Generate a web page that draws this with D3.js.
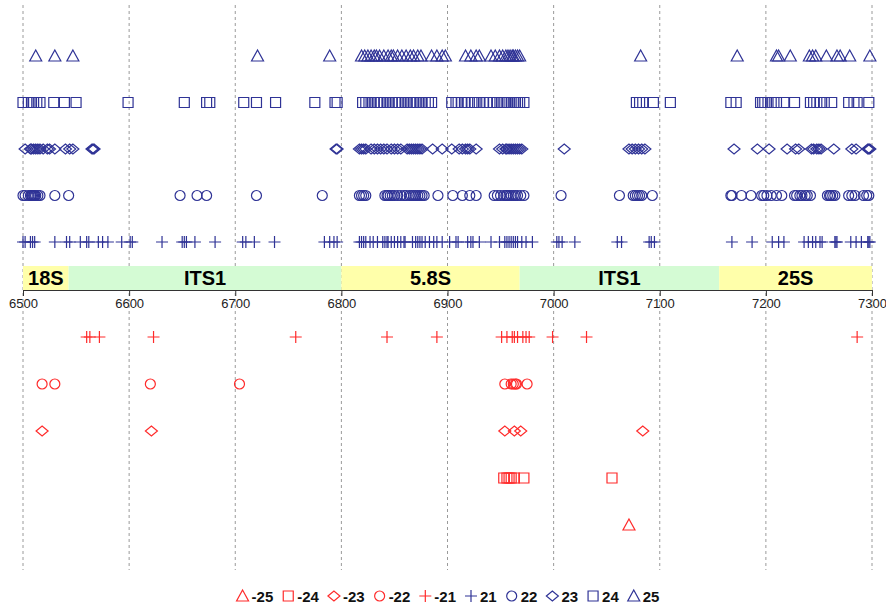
<!DOCTYPE html>
<html>
<head>
<meta charset="utf-8">
<script src="https://cdn.jsdelivr.net/npm/d3@7"></script>
<style>
  body { margin: 0; background: #fff; }
  svg { display: block; font-family: "Liberation Sans", Arial, sans-serif; }
</style>
</head>
<body>
<div class="chart"></div>
<script>
// positions (bp) of each marker, one array per series
const pos25 = [6512, 6530, 6547, 6721, 6789, 6819, 6822, 6825, 6828, 6831, 6833, 6836, 6840, 6844, 6847, 6849, 6853, 6857, 6861, 6865, 6868, 6872, 6875, 6885, 6890, 6895, 6898, 6917, 6922, 6927, 6930, 6941, 6945, 6949, 6952, 6955, 6957, 6959, 6961, 6962, 6964, 6966, 6968, 7082, 7173, 7210, 7212, 7223, 7241, 7244, 7247, 7257, 7267, 7270, 7279, 7298];
const pos24 = [6500, 6505, 6508, 6510, 6513, 6516, 6529, 6539, 6550, 6599, 6652, 6673, 6676, 6708, 6720, 6738, 6775, 6794, 6796,
  6820, 6823, 6826, 6828, 6831, 6834, 6837, 6840, 6843, 6845, 6848, 6851, 6854, 6857, 6860, 6862, 6865, 6868, 6871, 6874, 6876, 6879, 6882, 6885,
  6904, 6908, 6910, 6913, 6916, 6919, 6923, 6926, 6930, 6934, 6937, 6940, 6943, 6947, 6951, 6954, 6956, 6958, 6960, 6962, 6964, 6966, 6968, 6972,
  7078, 7081, 7084, 7094, 7110, 7167, 7172, 7195, 7197, 7199, 7202, 7205, 7210, 7217, 7227, 7242, 7245, 7248, 7251, 7255, 7262, 7278, 7283, 7286, 7297];
const pos23 = [6502, 6507, 6508, 6510, 6512, 6514, 6516, 6519, 6523, 6525, 6530, 6540, 6544, 6547, 6565, 6566, 6567, 6795, 6796,
  6817, 6819, 6821, 6823, 6828, 6831, 6834, 6837, 6840, 6843, 6847, 6850, 6853, 6856, 6862, 6864, 6866, 6868, 6870, 6872, 6874, 6876,
  6886, 6895, 6904, 6911, 6914, 6917, 6919, 6921, 6927, 6949, 6952, 6955, 6956, 6958, 6960, 6962, 6964, 6966, 6968, 6970, 7010,
  7071, 7074, 7077, 7080, 7083, 7086, 7170, 7192, 7203, 7220, 7228, 7231, 7243, 7245, 7248, 7250, 7252, 7264, 7281, 7285, 7296, 7297, 7298];
const pos22 = [6500, 6502, 6505, 6507, 6508, 6509, 6510, 6511, 6512, 6514, 6516, 6530, 6543, 6648, 6664, 6673, 6720, 6782,
  6817, 6819, 6821, 6823, 6841, 6843, 6844, 6846, 6848, 6850, 6853, 6856, 6859, 6861, 6864, 6866, 6868, 6870, 6872, 6874, 6876, 6878,
  6891, 6905, 6914, 6921, 6927, 6944, 6947, 6950, 6953, 6955, 6956, 6958, 6960, 6962, 6964, 6966, 6969, 6972, 7007,
  7062, 7075, 7077, 7079, 7081, 7083, 7093, 7167, 7168, 7177, 7186, 7196, 7198, 7201, 7205, 7210, 7215,
  7227, 7229, 7232, 7234, 7237, 7239, 7242, 7258, 7260, 7261, 7263, 7265, 7278, 7281, 7284, 7292, 7295, 7297];
const pos21 = [6500, 6502, 6507, 6509, 6511, 6530, 6541, 6544, 6554, 6560, 6562, 6571, 6575, 6580, 6593, 6601, 6603, 6631,
  6650, 6652, 6654, 6662, 6681, 6707, 6710, 6718, 6737, 6784, 6789, 6793, 6796,
  6817, 6819, 6821, 6823, 6827, 6830, 6834, 6839, 6841, 6843, 6844, 6847, 6850, 6853, 6856, 6859, 6860,
  6867, 6870, 6872, 6874, 6876, 6879, 6883, 6887, 6890, 6895, 6902, 6908, 6910, 6919, 6922, 6924, 6930, 6941,
  6949, 6954, 6956, 6958, 6960, 6962, 6964, 6966, 6970, 6974, 6980, 7003, 7005, 7008, 7020, 7060, 7064,
  7090, 7092, 7095, 7168, 7187, 7206, 7212, 7217, 7236, 7240, 7244, 7247, 7251, 7253, 7265, 7266, 7267,
  7280, 7285, 7290, 7296, 7297, 7298];
const neg21 = [6560, 6563, 6572, 6623, 6757, 6843, 6890, 6951, 6956, 6961, 6963, 6966, 6971, 6974, 6977, 6999, 7031, 7286];
const neg22 = [6518, 6530, 6620, 6704, 6954, 6960, 6962, 6964, 6965, 6975];
const neg23 = [6518, 6621, 6954, 6963, 6969, 7084];
const neg24 = [6953, 6956, 6958, 6960, 6963, 6972, 7055];
const neg25 = [7071];

// gene regions
const regionNames = ["18S", "ITS1", "5.8S", "ITS1", "25S"];
const regionStart = [6500, 6543, 6800, 6968, 7156];
const regionEnd = [6543, 6800, 6968, 7156, 7300];

const tickValues = [6500, 6600, 6700, 6800, 6900, 7000, 7100, 7200, 7300];

const legendLabels = ["-25", "-24", "-23", "-22", "-21", "21", "22", "23", "24", "25"];

const blue = "#2f3396", red = "#ff2b2b";

const series = [
  {key: "25", data: pos25, shape: "triangle", color: blue},
  {key: "24", data: pos24, shape: "square", color: blue},
  {key: "23", data: pos23, shape: "diamond", color: blue},
  {key: "22", data: pos22, shape: "circle", color: blue},
  {key: "21", data: pos21, shape: "plus", color: blue},
  {key: "-21", data: neg21, shape: "plus", color: red},
  {key: "-22", data: neg22, shape: "circle", color: red},
  {key: "-23", data: neg23, shape: "diamond", color: red},
  {key: "-24", data: neg24, shape: "square", color: red},
  {key: "-25", data: neg25, shape: "triangle", color: red}
];

const width = 886, height = 610;

const svg = d3.select(".chart").append("svg")
  .attr("width", width)
  .attr("height", height);

const xScale = d3.scaleLinear().domain([6500, 7300]).range([23, 872]);
const yTop = d3.scalePoint().domain(["25", "24", "23", "22", "21"]).range([56, 242]);
const yBottom = d3.scalePoint().domain(["-21", "-22", "-23", "-24", "-25"]).range([337, 525]);
const yRow = k => k.startsWith("-") ? yBottom(k) : yTop(k);

function shapePath(shape) {
  const p = d3.path();
  if (shape == "triangle") {
    p.moveTo(0, -6); p.lineTo(6, 5); p.lineTo(-6, 5); p.closePath();
  } else if (shape == "square") {
    p.rect(-5, -5, 10, 10);
  } else if (shape == "diamond") {
    p.moveTo(-6, 0); p.lineTo(0, -5); p.lineTo(6, 0); p.lineTo(0, 5); p.closePath();
  } else if (shape == "circle") {
    p.moveTo(5, 0); p.arc(0, 0, 5, 0, 2 * Math.PI);
  } else {
    p.moveTo(-6, 0); p.lineTo(6, 0); p.moveTo(0, -6); p.lineTo(0, 6);
  }
  return p.toString();
}

// dashed vertical grid
svg.append("g")
  .selectAll("line")
  .data(tickValues)
  .join("line")
  .attr("x1", d => xScale(d))
  .attr("x2", d => xScale(d))
  .attr("y1", 5)
  .attr("y2", 570)
  .attr("stroke", "#9a9a9a")
  .attr("stroke-width", 1)
  .attr("stroke-dasharray", "3,3");

// region band
const band = svg.append("g");
band.selectAll("rect")
  .data(regionNames)
  .join("rect")
  .attr("x", (d, i) => xScale(regionStart[i]))
  .attr("width", (d, i) => xScale(regionEnd[i]) - xScale(regionStart[i]))
  .attr("y", 266)
  .attr("height", 24)
  .attr("fill", (d, i) => i % 2 == 0 ? "#ffffaa" : "#d4fbd4");

band.selectAll("text")
  .data(regionNames)
  .join("text")
  .attr("x", (d, i) => (xScale(regionStart[i]) + xScale(regionEnd[i])) / 2)
  .attr("y", 285)
  .attr("text-anchor", "middle")
  .style("font-family", "'Liberation Sans', Arial, sans-serif")
  .style("font-weight", "bold")
  .style("font-size", "20px")
  .text(d => d);

// axis along the bottom of the band
const xAxis = d3.axisBottom(xScale).tickValues(tickValues).tickSizeInner(6).tickSizeOuter(0).tickPadding(3).tickFormat(d3.format("d"));
svg.append("g")
  .attr("transform", "translate(0,290)")
  .call(xAxis)
  .call(g => g.select(".domain").attr("stroke", "#333"))
  .call(g => g.selectAll(".tick line").attr("stroke", "#333"))
  .call(g => g.selectAll("text")
    .attr("fill", "#222")
    .style("font-family", "'Liberation Sans', Arial, sans-serif")
    .style("font-size", "13px"));

// markers
const rows = svg.append("g")
  .selectAll("g")
  .data(series)
  .join("g");

rows.selectAll("path")
  .data(s => s.data.map(v => ({v: v, s: s})))
  .join("path")
  .attr("transform", d => "translate(" + xScale(d.v) + "," + yRow(d.s.key) + ")")
  .attr("d", d => shapePath(d.s.shape))
  .attr("fill", "none")
  .attr("stroke", d => d.s.color)
  .attr("stroke-width", 1.2);

// legend
const legendOrder = legendLabels.map(l => series.find(s => s.key == l));
const legend = svg.append("g");
let lx = 0;
legendOrder.forEach((s, i) => {
  const g = legend.append("g").attr("transform", "translate(" + lx + ",0)");
  g.append("path")
    .attr("transform", "translate(6,0)")
    .attr("d", shapePath(s.shape))
    .attr("fill", "none")
    .attr("stroke", s.color)
    .attr("stroke-width", 1.2);
  const t = g.append("text")
    .attr("x", 15)
    .attr("y", 5.5)
    .style("font-weight", "bold")
    .style("font-size", "15px")
    .attr("fill", "#111")
    .text(legendLabels[i]);
  lx += 15 + t.node().getComputedTextLength() + 9;
});
legend.attr("transform", "translate(" + (448 - (lx - 9) / 2) + ",596)");
</script>
</body>
</html>
